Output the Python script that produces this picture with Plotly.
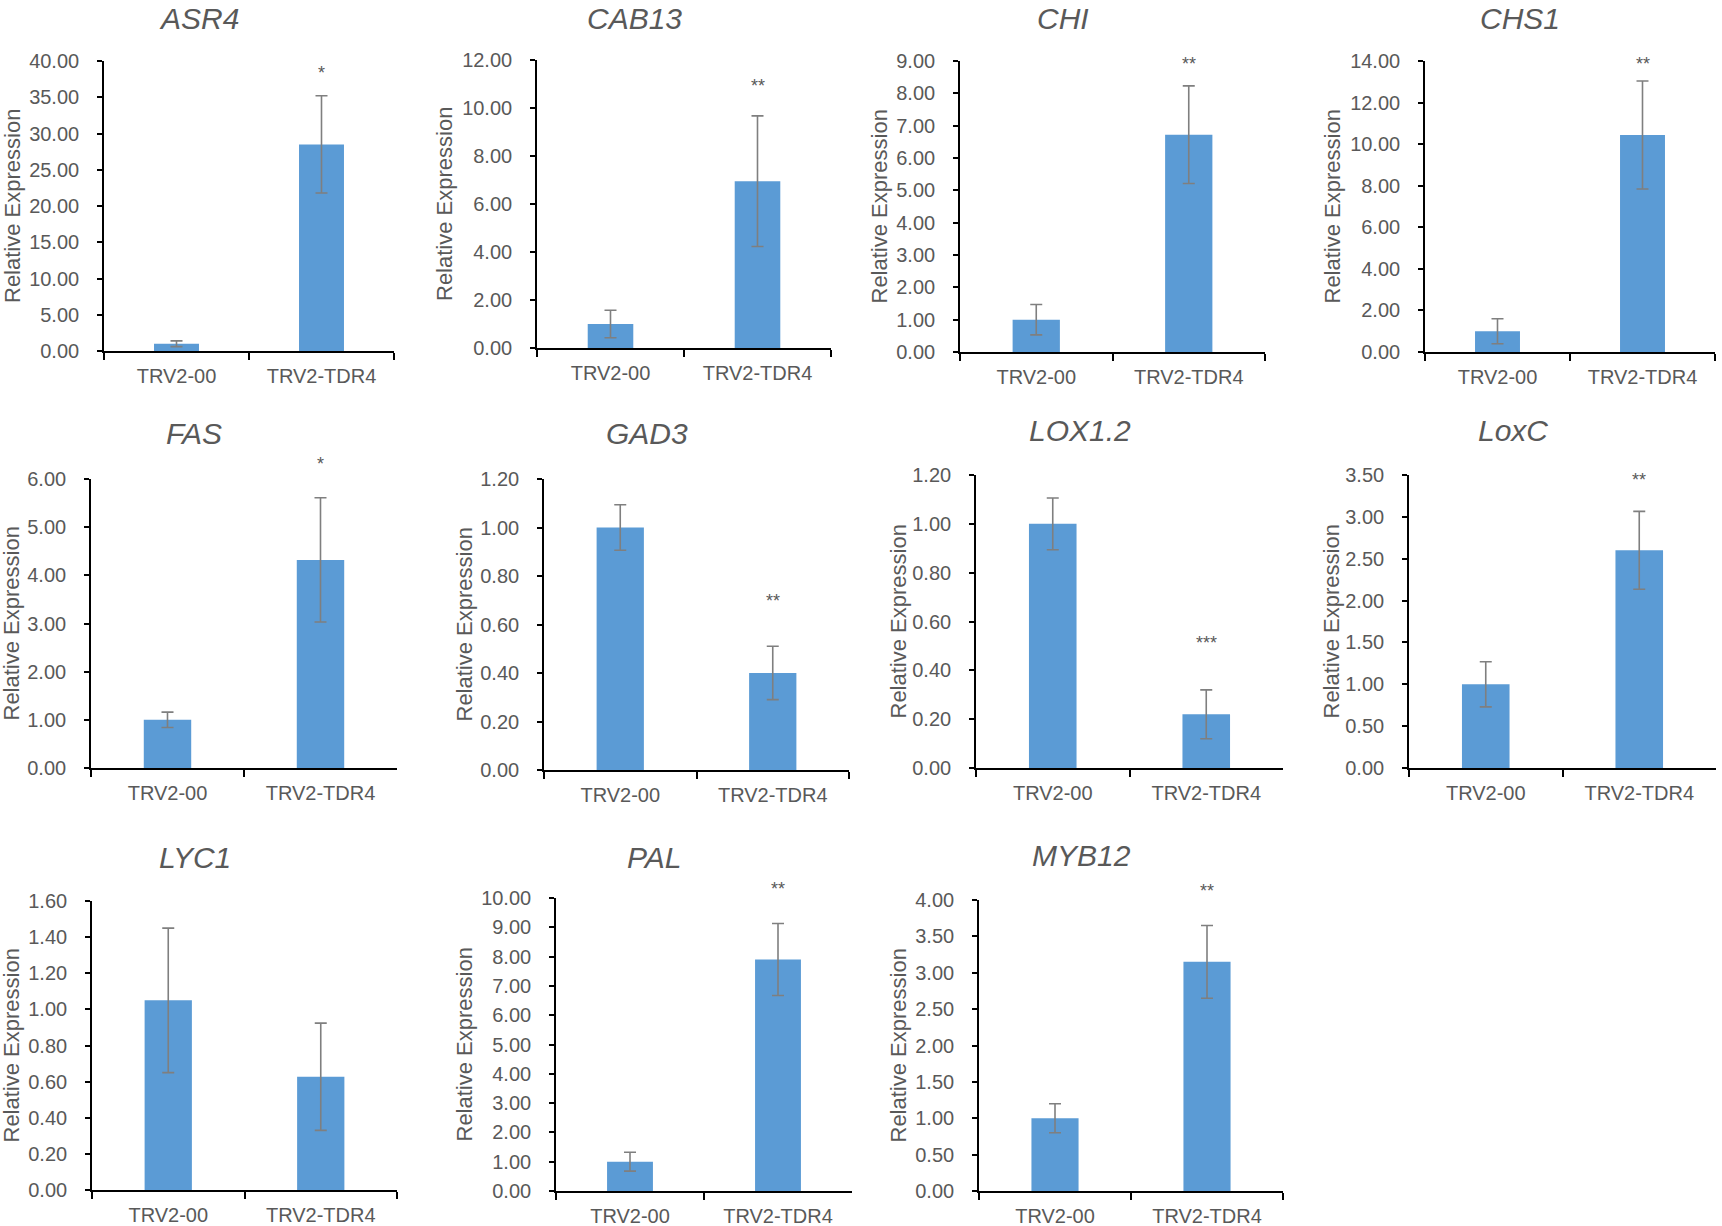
import plotly.graph_objects as go

# --- data --------------------------------------------------------------------
genes = ["ASR4", "CAB13", "CHI", "CHS1", "FAS", "GAD3", "LOX1.2", "LoxC",
         "LYC1", "PAL", "MYB12"]
groups = ["TRV2-00", "TRV2-TDR4"]

ctrl_mean = [1.00, 1.00, 1.00, 1.00, 1.00, 1.00, 1.00, 1.00, 1.05, 1.00, 1.00]
ctrl_err = [0.40, 0.57, 0.47, 0.60, 0.16, 0.094, 0.106, 0.27, 0.40, 0.32, 0.20]
tdr4_mean = [28.5, 6.95, 6.72, 10.44, 4.32, 0.40, 0.22, 2.60, 0.627, 7.90, 3.15]
tdr4_err = [6.70, 2.72, 1.51, 2.60, 1.29, 0.11, 0.10, 0.465, 0.297, 1.23, 0.50]

stars = ["*", "**", "**", "**", "*", "**", "***", "**", "", "**", "**"]
star_level = [38.3, 10.9, 8.92, 13.86, 6.32, 0.695, 0.51, 3.44, 0, 10.3, 4.13]

y_max = [40, 12, 9, 14, 6, 1.2, 1.2, 3.5, 1.6, 10, 4]
y_step = [5, 2, 1, 2, 1, 0.2, 0.2, 0.5, 0.2, 1, 0.5]

# --- layout (page pixels) ------------------------------------------------------
W, H = 1722, 1226

# plot area of each panel: left, right, top, bottom
panels = [
    (104, 394, 61, 351), (537, 831, 60, 348), (960, 1265, 61, 352), (1425, 1715, 61, 352),
    (91, 397, 479, 768), (544, 849, 479, 770), (976, 1283, 475, 768), (1409, 1716, 475, 768),
    (92, 397, 901, 1190), (556, 852, 898, 1191), (979, 1283, 900, 1191),
]
title_y = [19, 19, 19, 19, 433, 433, 430, 430, 857, 857, 855]
ylab_gap = [92, 92, 81, 93, 80, 80, 78, 78, 81, 92, 81]


def fx(px):
    return px / W


def fy(px):
    return 1 - px / H


FONT = "Arial, Liberation Sans, sans-serif"
GREY = "#595959"
BAR = "#5B9BD5"
ERR = "#7F7F7F"

fig = go.Figure()
annotations = []
layout_axes = {}

for i, g in enumerate(genes):
    n = "" if i == 0 else str(i + 1)
    x0, x1, y0, y1 = panels[i]

    fig.add_trace(go.Bar(
        x=groups, y=[ctrl_mean[i], tdr4_mean[i]],
        marker=dict(color=BAR, line=dict(width=0)),
        error_y=dict(type="data", array=[ctrl_err[i], tdr4_err[i]],
                     color=ERR, thickness=1.6, width=6),
        xaxis="x" + n, yaxis="y" + n, showlegend=False,
    ))

    layout_axes["xaxis" + n] = dict(
        domain=[fx(x0), min(fx(x1), 1)], anchor="y" + n, automargin=False,
        type="category", range=[-0.5, 1.5],
        showline=True, linecolor="black", linewidth=1.6,
        ticks="outside", tickson="boundaries", ticklen=7, tickwidth=1.6,
        tickcolor="black", ticklabelstandoff=6,
        tickfont=dict(family=FONT, size=20, color=GREY),
        showgrid=False, zeroline=False, fixedrange=True,
    )
    layout_axes["yaxis" + n] = dict(
        domain=[fy(y1), fy(y0)], anchor="x" + n, automargin=False,
        range=[0, y_max[i]], dtick=y_step[i], tick0=0, tickformat=".2f",
        showline=True, linecolor="black", linewidth=1.6,
        ticks="outside", ticklen=5, tickwidth=1.6, tickcolor="black",
        ticklabelstandoff=14,
        tickfont=dict(family=FONT, size=20, color=GREY),
        showgrid=False, zeroline=False, fixedrange=True,
    )

    # gene name (italic) centred over the whole chart block
    annotations.append(dict(
        text="<i>" + g + "</i>", xref="paper", yref="paper",
        x=fx((x0 + x1) / 2 - 50), y=fy(title_y[i]),
        xanchor="center", yanchor="middle", showarrow=False,
        font=dict(family=FONT, size=30, color=GREY),
    ))
    # y axis title
    annotations.append(dict(
        text="Relative Expression", xref="paper", yref="paper",
        x=fx(x0 - ylab_gap[i]), y=fy((y0 + y1) / 2),
        xanchor="center", yanchor="middle", textangle=-90, showarrow=False,
        font=dict(family=FONT, size=22, color=GREY),
    ))
    # significance marks (domain units so marks above the axis top still show)
    if stars[i]:
        annotations.append(dict(
            text=stars[i], xref="x" + n, yref="y" + n + " domain",
            x=groups[1], y=star_level[i] / y_max[i],
            xanchor="center", yanchor="middle",
            showarrow=False, font=dict(family=FONT, size=18, color=GREY),
        ))

fig.update_layout(
    width=W, height=H, margin=dict(l=0, r=0, t=0, b=0, autoexpand=False),
    paper_bgcolor="white", plot_bgcolor="white",
    bargap=0.69, annotations=annotations, **layout_axes,
)

# the page body has an 8px default margin; drop it so the figure fills the window
fig.write_html("out.html", config={"displayModeBar": False},
               post_script="document.body.style.margin = '0px';")
